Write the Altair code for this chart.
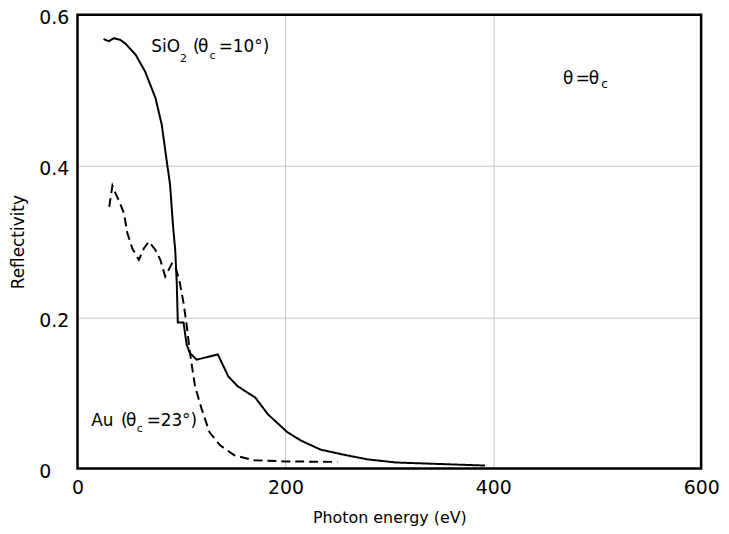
import altair as alt
import pandas as pd

# ---- data ----
sio2_energy = [25, 30, 35, 41, 46, 56, 65, 75, 81, 86, 89, 92, 94, 95.5, 96.5, 102, 105, 108,
               114.6, 135, 145, 154, 164, 171, 183, 202, 215, 234, 259, 280, 307, 350, 392]
sio2_refl = [0.568, 0.565, 0.569, 0.567, 0.562, 0.547, 0.525, 0.490, 0.455, 0.405, 0.376, 0.319,
             0.289, 0.245, 0.193, 0.193, 0.164, 0.153, 0.144, 0.151, 0.122, 0.109, 0.100, 0.094,
             0.072, 0.048, 0.037, 0.025, 0.0175, 0.012, 0.008, 0.006, 0.004]

au_energy = [30.5, 33.6, 36.8, 40, 44.8, 48, 52.7, 59, 63.8, 68.6, 75, 79.7, 84.4, 90.8, 94, 98,
             102, 105, 108, 113, 119.4, 127, 137, 151, 170, 200, 250]
au_refl = [0.346, 0.374, 0.363, 0.354, 0.337, 0.311, 0.291, 0.276, 0.291, 0.300, 0.289, 0.276,
           0.254, 0.271, 0.267, 0.249, 0.219, 0.190, 0.155, 0.109, 0.079, 0.048, 0.031, 0.0175,
           0.011, 0.0095, 0.0088]

series_names = ["SiO2", "Au"]
x_ticks = [0, 200, 400, 600]
y_ticks = [0, 0.2, 0.4, 0.6]
x_domain = [0, 600]
y_domain = [0, 0.6]

sio2_label = ["SiO", "2", "(", "θ", "c", "=", "10°)"]
au_label = ["Au", "(", "θ", "c", "=", "23°)"]
crit_label = ["θ", "=", "θ", "c"]
label_anchor_x = [71.0, 13.1, 467]
label_anchor_y = [0.551, 0.0565, 0.509]

FONT = "DejaVu Sans"
GRID = "#c4c4c4"

rows = []
for i, (e, r) in enumerate(zip(sio2_energy, sio2_refl)):
    rows.append({"series": series_names[0], "energy": e, "refl": r, "idx": i})
for i, (e, r) in enumerate(zip(au_energy, au_refl)):
    rows.append({"series": series_names[1], "energy": e, "refl": r, "idx": i})
df = pd.DataFrame(rows)

xscale = alt.Scale(domain=x_domain, nice=False, zero=False)
yscale = alt.Scale(domain=y_domain, nice=False, zero=False)

x_grid_color = {"condition": {"test": "datum.value == 0 || datum.value == 600",
                              "value": "transparent"}, "value": GRID}
y_grid_color = {"condition": {"test": "datum.value == 0 || datum.value == 0.6",
                              "value": "transparent"}, "value": GRID}

lines = alt.Chart(df).mark_line(color="black", strokeWidth=2, clip=True).encode(
    x=alt.X("energy:Q", scale=xscale,
            axis=alt.Axis(values=x_ticks, grid=True, gridColor=x_grid_color, gridWidth=1,
                          tickSize=0, labelPadding=10, labelFontSize=19, labelFont=FONT,
                          labelColor="black", domain=False, labelFlush=False,
                          title="Photon energy (eV)", titleFont=FONT, titleFontSize=16,
                          titleFontWeight="normal", titleColor="black",
                          titleX=314, titleY=49, titleBaseline="middle", titleAlign="center")),
    y=alt.Y("refl:Q", scale=yscale,
            axis=alt.Axis(values=y_ticks, grid=True, gridColor=y_grid_color, gridWidth=1,
                          tickSize=0, labelPadding=39, labelAlign="left", labelFontSize=19,
                          labelFont=FONT, labelColor="black", domain=False, labelFlush=False,
                          labelOffset=3,
                          labelExpr="datum.value == 0 ? '0' : format(datum.value, '.1f')",
                          title="Reflectivity", titleFont=FONT, titleFontSize=17,
                          titleFontWeight="normal", titleColor="black",
                          titleX=-59, titleY=228.5, titleAngle=-90,
                          titleBaseline="middle", titleAlign="center")),
    strokeDash=alt.StrokeDash("series:N",
                              scale=alt.Scale(domain=series_names, range=[[1, 0], [9, 5]]),
                              legend=None),
    detail="series:N",
    order="idx:Q",
)

frame = alt.Chart(pd.DataFrame({"k": [0]})).mark_rect(
    fill="transparent", stroke="black", strokeWidth=2.5).encode(
    x=alt.datum(x_domain[0], scale=xscale), x2=alt.datum(x_domain[1]),
    y=alt.datum(y_domain[0], scale=yscale), y2=alt.datum(y_domain[1]),
)


def piece(anchor, text, dx, dy, size):
    d = pd.DataFrame({"x": [label_anchor_x[anchor]], "y": [label_anchor_y[anchor]], "t": [text]})
    return alt.Chart(d).mark_text(align="left", baseline="alphabetic", font=FONT, fontSize=size,
                                  dx=dx, dy=dy, color="black").encode(
        x=alt.X("x:Q", scale=xscale), y=alt.Y("y:Q", scale=yscale), text="t:N")


big, small = 17, 11
layers = [lines, frame]
# SiO2 label
sio2_style = [(0, 0, big), (29, 10, small), (42, 0, big), (47, 0, big), (58.5, 7, small),
              (68, 0, big), (82, 0, big)]
for t, (dx, dy, s) in zip(sio2_label, sio2_style):
    layers.append(piece(0, t, dx, dy, s))
# Au label
au_style = [(0, 0, big), (30, 0, big), (35, 0, big), (46, 6, small), (56, 0, big), (70, 0, big)]
for t, (dx, dy, s) in zip(au_label, au_style):
    layers.append(piece(1, t, dx, dy, s))
# theta = theta_c
crit_style = [(0, 0, big), (13, 0, big), (26, 0, big), (38.5, 4, 12)]
for t, (dx, dy, s) in zip(crit_label, crit_style):
    layers.append(piece(2, t, dx, dy, s))

chart = alt.layer(*layers).properties(
    width=628, height=457,
    autosize=alt.AutoSizeParams(type="none"),
    padding={"left": 70, "top": 5, "right": 20, "bottom": 56},
).configure(background="white").configure_view(stroke=None)

chart.save("out.html", embed_options={"renderer": "svg", "actions": False})
